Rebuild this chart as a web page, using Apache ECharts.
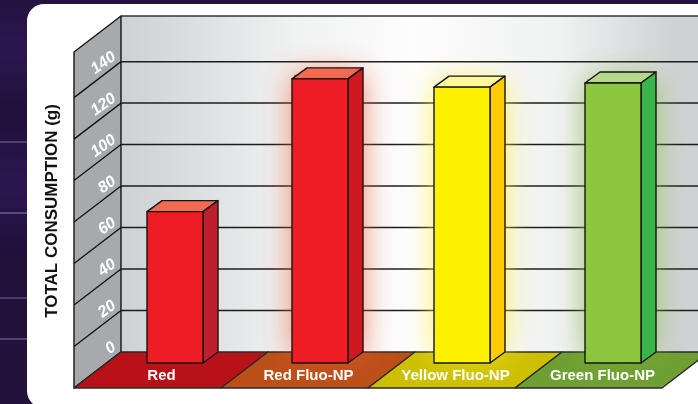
<!DOCTYPE html>
<html><head><meta charset="utf-8">
<style>html,body{margin:0;padding:0;background:#24123f}#c{width:698px;height:404px}</style>
<script src="https://cdn.jsdelivr.net/npm/echarts@6/dist/echarts.min.js"></script>
</head><body><div id="c"></div>
<script>
const categories = ['Red', 'Red Fluo-NP', 'Yellow Fluo-NP', 'Green Fluo-NP'];
const consumption = [73, 137, 133, 135];
const yTicks = [0, 20, 40, 60, 80, 100, 120, 140];
const yTitle = 'TOTAL CONSUMPTION (g)';

const frontColors = ['#ee1c25', '#ee1c25', '#fff200', '#8dc63f'];
const sideColors = ['#be1e2d', '#cf1820', '#ffcb05', '#39b54a'];
const topColors = ['#f26a4f', '#f26a4f', '#fff799', '#b5d98a'];
const glowColors = ['rgba(0,0,0,0)', 'rgba(242,90,50,0.9)', 'rgba(255,240,60,0.95)', 'rgba(130,185,60,0.9)'];
const floorColors = ['#b81218', '#bc4f18', '#cdbf00', '#6e9f32'];
const barNudge = [-4.5, -6.5, -11.5, -7.5];
const wallDepth = [-47, 36], barDepth = [-15, 11], barW = 56, yTop = 162;
const streaks = [[141, .3], [212, .35], [297, .28], [338, .32]];

const chart = echarts.init(document.getElementById('c'), null, {renderer: 'canvas'});
const line = {stroke: '#111', lineWidth: 1.3};

function polygon(points, fill, extra) {
  return {type: 'polygon', shape: {points}, style: Object.assign({fill, stroke: '#151515', lineWidth: 1.4, lineJoin: 'round'}, extra || {})};
}
function renderWalls(params, api) {
  const a = api.coord([0, 0]), b = api.coord([0, yTop]);
  const cs = params.coordSys;
  const L = cs.x, R = cs.x + cs.width, T = b[1], B = a[1];
  return {type: 'group', children: [
    {type: 'rect', shape: {x: L, y: T, width: R - L, height: B - T},
     style: {fill: new echarts.graphic.LinearGradient(0, 0, 1, 0, [
       {offset: 0, color: '#cfd0d2'}, {offset: .3, color: '#f1f2f2'}, {offset: .5, color: '#fdfdfd'},
       {offset: .75, color: '#f0f1f1'}, {offset: .94, color: '#d0d1d3'}, {offset: 1, color: '#d0d1d3'}])}},
    {type: 'line', shape: {x1: L, y1: T, x2: 698, y2: T}, style: {stroke: '#333', lineWidth: 1.3}},
    polygon([[L, T], [L, B], [L + wallDepth[0], B + wallDepth[1]], [L + wallDepth[0], T + wallDepth[1]]], '#a7a9ac')
  ]};
}
function renderGrid(params, api) {
  const v = api.value(0);
  const y = api.coord([0, v])[1];
  const L = params.coordSys.x;
  const kids = [{type: 'line', shape: {x1: L + wallDepth[0], y1: y + wallDepth[1], x2: L, y2: y}, style: line}];
  if (v > 0) kids.push({type: 'line', shape: {x1: L, y1: y, x2: 698, y2: y}, style: {stroke: '#1c1c1c', lineWidth: 1.5}});
  return {type: 'group', children: kids};
}
function renderFloor(params, api) {
  const i = api.value(0);
  const y0 = api.coord([0, 0])[1];
  const band = api.size([1, 0])[0];
  const x = api.coord([i, 0])[0] - band / 2;
  return polygon([[x, y0], [x + band, y0], [x + band + wallDepth[0], y0 + wallDepth[1]], [x + wallDepth[0], y0 + wallDepth[1]]],
    floorColors[i], {stroke: '#2a2a2a'});
}
function renderBar(params, api) {
  const i = api.value(0);
  const p = api.coord([i, api.value(1)]);
  const y0 = api.coord([i, 0])[1];
  const xb = p[0] + barNudge[i] - barW / 2;
  const dx = barDepth[0], dy = barDepth[1];
  const fl = xb + dx, fr = fl + barW, ft = p[1] + dy, fb = y0 + dy;
  return {type: 'group', children: [
    {type: 'rect', shape: {x: fl + 2, y: ft - 4, width: barW + 11, height: fb - ft - 4},
     style: {fill: glowColors[i], shadowBlur: 30, shadowColor: glowColors[i]}},
    polygon([[fl, ft], [fr, ft], [fr - dx, ft - dy], [fl - dx, ft - dy]], topColors[i]),
    polygon([[fr, ft], [fr - dx, ft - dy], [fr - dx, fb - dy], [fr, fb]], sideColors[i]),
    polygon([[fl, ft], [fr, ft], [fr, fb], [fl, fb]], frontColors[i])
  ]};
}

chart.setOption({
  animation: false,
  backgroundColor: new echarts.graphic.LinearGradient(0, 0, 0, 1, [
    {offset: 0, color: '#24123f'}, {offset: .12, color: '#2c1650'}, {offset: .28, color: '#20103a'},
    {offset: .46, color: '#2c1650'}, {offset: .62, color: '#20103a'}, {offset: 1, color: '#23133c'}]),
  graphic: {elements: [
    ...streaks.map(s => ({type: 'rect', z: -2, shape: {x: 0, y: s[0], width: 30, height: 2}, style: {fill: 'rgba(190,170,225,' + s[1] + ')'}})),
    {type: 'rect', z: -1, shape: {x: 27, y: 4, width: 700, height: 404, r: 17}, style: {fill: '#fff'}}
  ]},
  grid: {left: 121, top: 16, width: 588, height: 336, containLabel: false, outerBoundsMode: 'none'},
  xAxis: {type: 'category', data: categories, z: 20, axisLine: {show: false}, axisTick: {show: false}, splitLine: {show: false},
    axisLabel: {interval: 0, color: '#fff', fontFamily: 'Liberation Sans', fontWeight: 'bold', fontSize: 15, margin: 16, padding: [0, 66, 0, 0]}},
  yAxis: {type: 'value', min: 0, max: yTop, z: 20, splitLine: {show: false}, axisLine: {show: false}, axisTick: {show: false},
    name: yTitle, nameLocation: 'middle', nameGap: 60, nameRotate: 90,
    nameTextStyle: {color: '#111', fontFamily: 'Liberation Sans', fontWeight: 'bold', fontSize: 17, padding: [0, 54, 0, 0]},
    axisLabel: {customValues: yTicks, rotate: 36, verticalAlign: 'bottom', color: '#fff', fontFamily: 'Liberation Sans', fontStyle: 'italic', fontWeight: 'bold', fontSize: 16, margin: 2}},
  series: [
    {type: 'custom', clip: false, z: 1, data: [[0]], renderItem: renderWalls, silent: true},
    {type: 'custom', clip: false, z: 2, data: yTicks.map(v => [v]), renderItem: renderGrid, silent: true},
    {type: 'custom', clip: false, z: 3, data: categories.map((c, i) => [i]), renderItem: renderFloor, silent: true},
    {type: 'custom', clip: false, z: 4, data: consumption.map((v, i) => [i, v]), renderItem: renderBar, silent: true}
  ]
});
</script></body></html>
